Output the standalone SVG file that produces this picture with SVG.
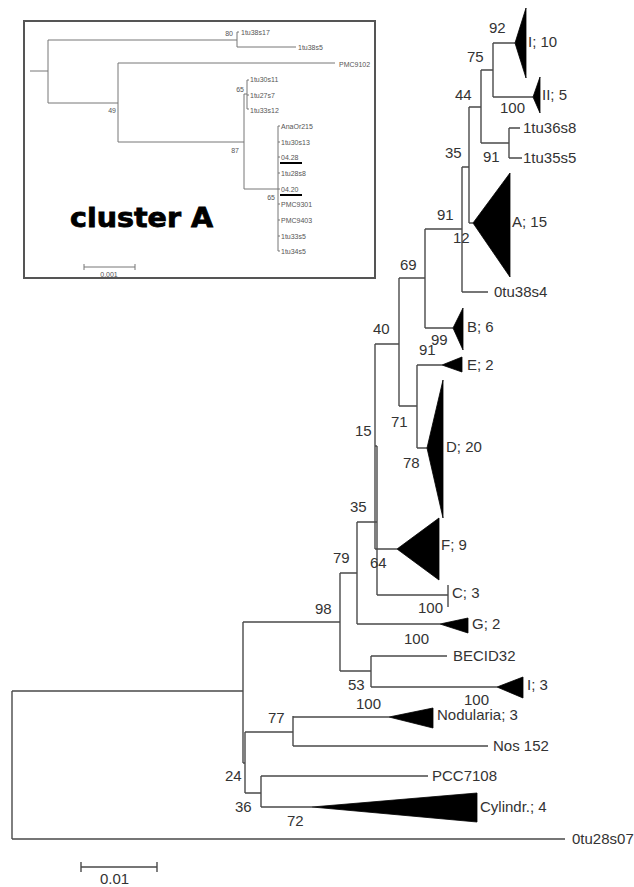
<svg xmlns="http://www.w3.org/2000/svg" width="634" height="887" viewBox="0 0 634 887">
<style>
.ln{stroke:#4a4a4a;stroke-width:1.4;fill:none}
.tri{fill:#000;stroke:#000;stroke-width:0.8}
.lb{font-family:"Liberation Sans",Arial,sans-serif;font-size:15px;fill:#333}
.il{stroke:#777;stroke-width:1;fill:none}
.it{font-family:"Liberation Sans",Arial,sans-serif;font-size:7px;fill:#555}
.ul{stroke:#000;stroke-width:2}
</style>
<rect width="634" height="887" fill="#fff"/>

<!-- inset -->
<g id="inset">
<rect x="24" y="21" width="351" height="257" fill="#fff" stroke="#555" stroke-width="2"/>
<g id="inset-connectors">
<path class="il" d="M30 71H48 M48 40V103 M48 40H237 M237 32V47 M237 32H239 M237 47H296 M48 103H118 M118 63V142 M118 63H335 M118 142H244 M244 94V189 M244 94H247 M247 80V109 M247 80H249 M247 95H249 M247 109H249 M244 189H278 M278 126V251 M278 126H280 M278 142H280 M278 157H280 M278 173H280 M278 189H280 M278 204H280 M278 220H280 M278 236H280 M278 251H280"/>
<path class="il" d="M84 267H135 M84 264V270 M135 264V270"/>
</g>
<g id="inset-labels">
<text class="it" x="233" y="35.5" text-anchor="end">80</text>
<text class="it" x="116" y="112.5" text-anchor="end">49</text>
<text class="it" x="239" y="152.5" text-anchor="end">87</text>
<text class="it" x="244" y="91.5" text-anchor="end">65</text>
<text class="it" x="275" y="199.5" text-anchor="end">65</text>
<text class="it" x="241" y="34.5">1tu38s17</text>
<text class="it" x="298" y="49.5">1tu38s5</text>
<text class="it" x="339" y="66.5">PMC9102</text>
<text class="it" x="250" y="81.5">1tu30s11</text>
<text class="it" x="250" y="97.5">1tu27s7</text>
<text class="it" x="250" y="112.5">1tu33s12</text>
<text class="it" x="281" y="128.5">AnaOr215</text>
<text class="it" x="281" y="144.5">1tu30s13</text>
<text class="it" x="281" y="159.5">04.28</text>
<text class="it" x="281" y="175.5">1tu28s8</text>
<text class="it" x="281" y="191.5">04.20</text>
<text class="it" x="281" y="206.5">PMC9301</text>
<text class="it" x="281" y="222.5">PMC9403</text>
<text class="it" x="281" y="238.5">1tu33s5</text>
<text class="it" x="281" y="253.5">1tu34s5</text>
<line class="ul" x1="280" y1="163" x2="302" y2="163"/>
<line class="ul" x1="280" y1="195" x2="302" y2="195"/>
<text class="it" x="109" y="276.5" text-anchor="middle">0.001</text>
</g>
<text x="70" y="227" font-family="'DejaVu Sans',sans-serif" font-weight="bold" font-size="27" fill="#000" stroke="#000" stroke-width="0.8" textLength="143" lengthAdjust="spacingAndGlyphs">cluster A</text>
</g>

<!-- connectors -->
<g id="connectors">
<path class="ln" d="M12 691V839 M12 691H243 M12 839H565"/>
<path class="ln" d="M243 622V763 M243 622H340 M243 763H245"/>
<path class="ln" d="M245 732V793 M245 732H293 M245 793H261"/>
<path class="ln" d="M293 716V746 M293 717H389 M293 746H488"/>
<path class="ln" d="M261 776V807 M261 776H428 M261 807H312"/>
<path class="ln" d="M340 573V671 M340 573H357 M340 671H371"/>
<path class="ln" d="M371 656V687 M371 656H447 M371 687H497"/>
<path class="ln" d="M357 522V624 M357 522H377 M357 624H440"/>
<path class="ln" d="M377 446V595 M375 446H377 M377 595H448"/>
<path class="ln" d="M375 344V549 M375 344H399 M375 549H397"/>
<path class="ln" d="M399 278V406 M399 278H425 M399 406H417"/>
<path class="ln" d="M417 365V448 M417 365H442 M417 448H427"/>
<path class="ln" d="M425 229V328 M425 229H462 M425 328H453"/>
<path class="ln" d="M462 167V292 M462 167H469 M462 292H488"/>
<path class="ln" d="M469 107V223 M469 107H481 M469 223H473"/>
<path class="ln" d="M481 70V143 M481 70H493 M481 143H509"/>
<path class="ln" d="M509 128V158 M509 128H520 M509 158H522"/>
<path class="ln" d="M493 43V97 M493 43H515 M493 97H533"/>
</g>

<!-- clades / leaves -->
<g id="clade-I10"><polygon class="tri" points="515,43 526,8 526,78"/><text class="lb" x="528" y="47">I; 10</text></g>
<g id="clade-II5"><polygon class="tri" points="533,97 540,77 540,113"/><text class="lb" x="542" y="100">II; 5</text></g>
<g id="leaf-1tu36s8"><text class="lb" x="523" y="133">1tu36s8</text></g>
<g id="leaf-1tu35s5"><text class="lb" x="523" y="163">1tu35s5</text></g>
<g id="clade-A15"><polygon class="tri" points="473,223 510,173 510,277"/><text class="lb" x="512" y="227">A; 15</text></g>
<g id="leaf-0tu38s4"><text class="lb" x="494" y="297">0tu38s4</text></g>
<g id="clade-B6"><polygon class="tri" points="453,328 463,308 463,350"/><text class="lb" x="467" y="332">B; 6</text></g>
<g id="clade-E2"><polygon class="tri" points="442,365 462,357 462,372"/><text class="lb" x="467" y="370">E; 2</text></g>
<g id="clade-D20"><polygon class="tri" points="427,448 443,380 443,518"/><text class="lb" x="446" y="452">D; 20</text></g>
<g id="clade-F9"><polygon class="tri" points="397,549 439,518 439,580"/><text class="lb" x="441" y="550">F; 9</text></g>
<g id="clade-C3"><line class="ln" x1="448" y1="585" x2="448" y2="607"/><text class="lb" x="452" y="598">C; 3</text></g>
<g id="clade-G2"><polygon class="tri" points="440,624 468,618 468,633"/><text class="lb" x="472" y="629">G; 2</text></g>
<g id="leaf-BECID32"><text class="lb" x="453" y="661">BECID32</text></g>
<g id="clade-I3"><polygon class="tri" points="497,687 523,677 523,698"/><text class="lb" x="527" y="690">I; 3</text></g>
<g id="clade-Nodularia"><polygon class="tri" points="389,717 433,708 433,728"/><text class="lb" x="437" y="720">Nodularia; 3</text></g>
<g id="leaf-Nos152"><text class="lb" x="493" y="751">Nos 152</text></g>
<g id="leaf-PCC7108"><text class="lb" x="432" y="781">PCC7108</text></g>
<g id="clade-Cylindr"><polygon class="tri" points="312,807 477,793 477,822"/><text class="lb" x="480" y="812">Cylindr.; 4</text></g>
<g id="leaf-0tu28s07"><text class="lb" x="572" y="844">0tu28s07</text></g>

<!-- bootstrap values -->
<g id="bootstrap">
<text class="lb" x="489" y="33">92</text>
<text class="lb" x="467" y="62">75</text>
<text class="lb" x="500" y="113">100</text>
<text class="lb" x="455" y="100">44</text>
<text class="lb" x="483" y="162">91</text>
<text class="lb" x="445" y="158">35</text>
<text class="lb" x="437" y="220">91</text>
<text class="lb" x="453" y="243">12</text>
<text class="lb" x="400" y="270">69</text>
<text class="lb" x="373" y="334">40</text>
<text class="lb" x="431" y="345">99</text>
<text class="lb" x="419" y="355">91</text>
<text class="lb" x="391" y="427">71</text>
<text class="lb" x="403" y="468">78</text>
<text class="lb" x="355" y="436">15</text>
<text class="lb" x="350" y="512">35</text>
<text class="lb" x="370" y="568">64</text>
<text class="lb" x="333" y="563">79</text>
<text class="lb" x="418" y="613">100</text>
<text class="lb" x="315" y="614">98</text>
<text class="lb" x="404" y="644">100</text>
<text class="lb" x="348" y="690">53</text>
<text class="lb" x="464" y="705">100</text>
<text class="lb" x="356" y="709">100</text>
<text class="lb" x="268" y="723">77</text>
<text class="lb" x="225" y="781">24</text>
<text class="lb" x="235" y="812">36</text>
<text class="lb" x="287" y="826">72</text>
</g>

<!-- scale bar -->
<g id="scalebar">
<path class="ln" d="M81 867H157 M81 862V872 M157 862V872"/>
<text class="lb" x="100" y="884">0.01</text>
</g>
</svg>
